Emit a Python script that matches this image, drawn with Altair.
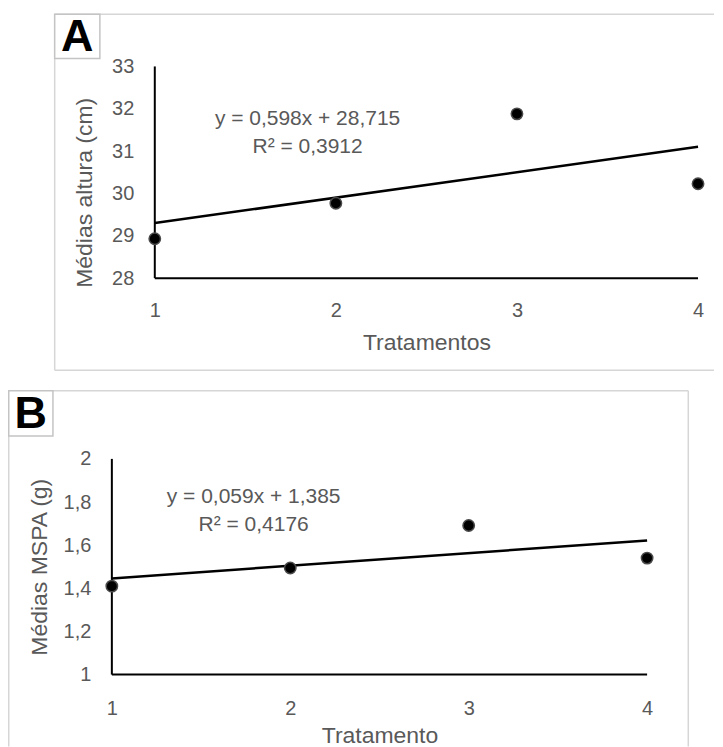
import altair as alt
import pandas as pd

# ---- data ----
tratamentos = [1, 2, 3, 4]
altura = [28.93, 29.77, 31.88, 30.23]
mspa = [1.41, 1.494, 1.691, 1.54]

eq_a = ["y = 0,598x + 28,715", "R² = 0,3912"]
eq_b = ["y = 0,059x + 1,385", "R² = 0,4176"]

x_ticks = [1, 2, 3, 4]
y_ticks_a = [28, 29, 30, 31, 32, 33]
y_ticks_b = [1, 1.2, 1.4, 1.6, 1.8, 2]

FONT = "Liberation Sans"
GREY = "#595959"
BORDER = "#d6d6d6"
BOX = "#c4c4c4"

one = pd.DataFrame({"k": [0]})


def rule(x, x2, y, y2):
    return alt.Chart(one).mark_rule(color=BORDER, strokeWidth=1.5).encode(
        x=alt.value(x), x2=alt.value(x2), y=alt.value(y), y2=alt.value(y2)
    )


def panel(values, xticks, yticks, ytitle, xtitle, eq, letter, g):
    """g: layout of the panel in pixels, relative to the panel's top-left corner."""
    W, H = g["w"], g["h"]
    px0, px1 = g["plot_x"]          # pixel x of first / last x tick
    py0, py1 = g["plot_y"]          # pixel y of top / bottom y tick
    x0, x1 = xticks[0], xticks[-1]
    yb, yt = yticks[0], yticks[-1]
    kx = (px1 - px0) / (x1 - x0)
    ky = (py1 - py0) / (yt - yb)
    xdom = [x0 - px0 / kx, x1 + (W - px1) / kx]
    ydom = [yb - (H - py1) / ky, yt + py0 / ky]

    xs = alt.Scale(domain=xdom, nice=False, zero=False)
    ys = alt.Scale(domain=ydom, nice=False, zero=False)

    df = pd.DataFrame({"x": tratamentos, "y": values})
    base = alt.Chart(df)

    pts = base.mark_circle(size=130, fill="black", stroke="#4a4a4a",
                           strokeWidth=1.5, opacity=1).encode(
        x=alt.X("x:Q", scale=xs,
                axis=alt.Axis(values=xticks, title=xtitle, domain=False,
                              offset=-(H - py1), labelPadding=g["xlp"],
                              labelFlush=False, format="d",
                              titleX=g["xtx"], titleY=g["xty"],
                              titleAlign="center", titleBaseline="top")),
        y=alt.Y("y:Q", scale=ys,
                axis=alt.Axis(values=yticks, title=ytitle, domain=False,
                              offset=-px0, labelPadding=21,
                              labelExpr="replace('' + datum.value, '.', ',')",
                              titleX=g["ytx"], titleY=g["yty"], titleAngle=270,
                              titleAlign="center", titleBaseline="middle")),
    )
    line = base.transform_regression("x", "y", extent=[x0, x1]).mark_line(
        color="black", strokeWidth=2.5
    ).encode(x=alt.X("x:Q", scale=xs), y=alt.Y("y:Q", scale=ys))

    # axis lines that meet at the first tick, as in the original
    ax = pd.DataFrame({"x": [x0], "x2": [x1], "y": [yb], "y2": [yt]})
    yline = alt.Chart(ax).mark_rule(color="black", strokeWidth=2).encode(
        x=alt.X("x:Q", scale=xs), y=alt.Y("y:Q", scale=ys), y2="y2:Q")
    xline = alt.Chart(ax).mark_rule(color="black", strokeWidth=2).encode(
        x=alt.X("x:Q", scale=xs), x2="x2:Q", y=alt.Y("y:Q", scale=ys))

    L, T, R, B = g["border"]
    if g["open"] == "right":
        deco = [rule(L, R, T, T), rule(L, R, B, B), rule(L, L, T, B)]
    else:
        deco = [rule(L, R, T, T), rule(L, L, T, B), rule(R, R, T, B)]
    bx = g["box"]
    deco.append(alt.Chart(one).mark_rect(fill="white", stroke=BOX, strokeWidth=1.5).encode(
        x=alt.value(bx[0]), x2=alt.value(bx[1]), y=alt.value(bx[2]), y2=alt.value(bx[3])))
    deco.append(alt.Chart(one).mark_text(text=letter, font=FONT, fontSize=45,
                                         fontWeight="bold", color="black",
                                         align="center", baseline="middle").encode(
        x=alt.value((bx[0] + bx[1]) / 2), y=alt.value((bx[2] + bx[3]) / 2 + 1)))

    ex, ey1, ey2 = g["eq"]
    texts = [
        alt.Chart(one).mark_text(text=eq[0], font=FONT, fontSize=21, color=GREY,
                                 align="center", baseline="middle").encode(
            x=alt.value(ex), y=alt.value(ey1)),
        alt.Chart(one).mark_text(text=eq[1], font=FONT, fontSize=21, color=GREY,
                                 align="center", baseline="middle").encode(
            x=alt.value(ex), y=alt.value(ey2)),
    ]
    return alt.layer(*deco, yline, xline, line, pts, *texts).properties(
        width=W, height=H)


# panel A occupies page x 8..715, y 13..371 ; panel B page x 8..690, y 390..747
geo_a = dict(w=707, h=358, plot_x=(147, 691), plot_y=(53, 265),
             xlp=22, xtx=419, xty=53,
             ytx=-70, yty=179,
             border=(46.75, 0.75, 707, 357.25), open="right",
             box=(46.75, 92, 0.75, 45), eq=(300, 106, 134))
geo_b = dict(w=682, h=357, plot_x=(104, 640), plot_y=(69, 285),
             xlp=24, xtx=372, xty=50.5,
             ytx=-72, yty=177,
             border=(0.75, 0.75, 681.25, 357), open="bottom",
             box=(0.75, 45, 0.75, 46), eq=(246, 107, 135))

chart_a = panel(altura, x_ticks, y_ticks_a, "Médias altura (cm)", "Tratamentos",
                eq_a, "A", geo_a)
chart_b = panel(mspa, x_ticks, y_ticks_b, "Médias MSPA (g)", "Tratamento",
                eq_b, "B", geo_b)

chart = alt.vconcat(chart_a, chart_b, spacing=19).properties(
    padding={"left": 0, "top": 5, "right": 0, "bottom": 0}
).configure_axis(
    grid=False, ticks=False, tickSize=0,
    labelFont=FONT, labelFontSize=20, labelColor=GREY,
    titleFont=FONT, titleFontSize=23, titleColor=GREY, titleFontWeight="normal",
).configure_view(stroke=None)

chart.save("out.html", embed_options={"renderer": "svg", "actions": False})
